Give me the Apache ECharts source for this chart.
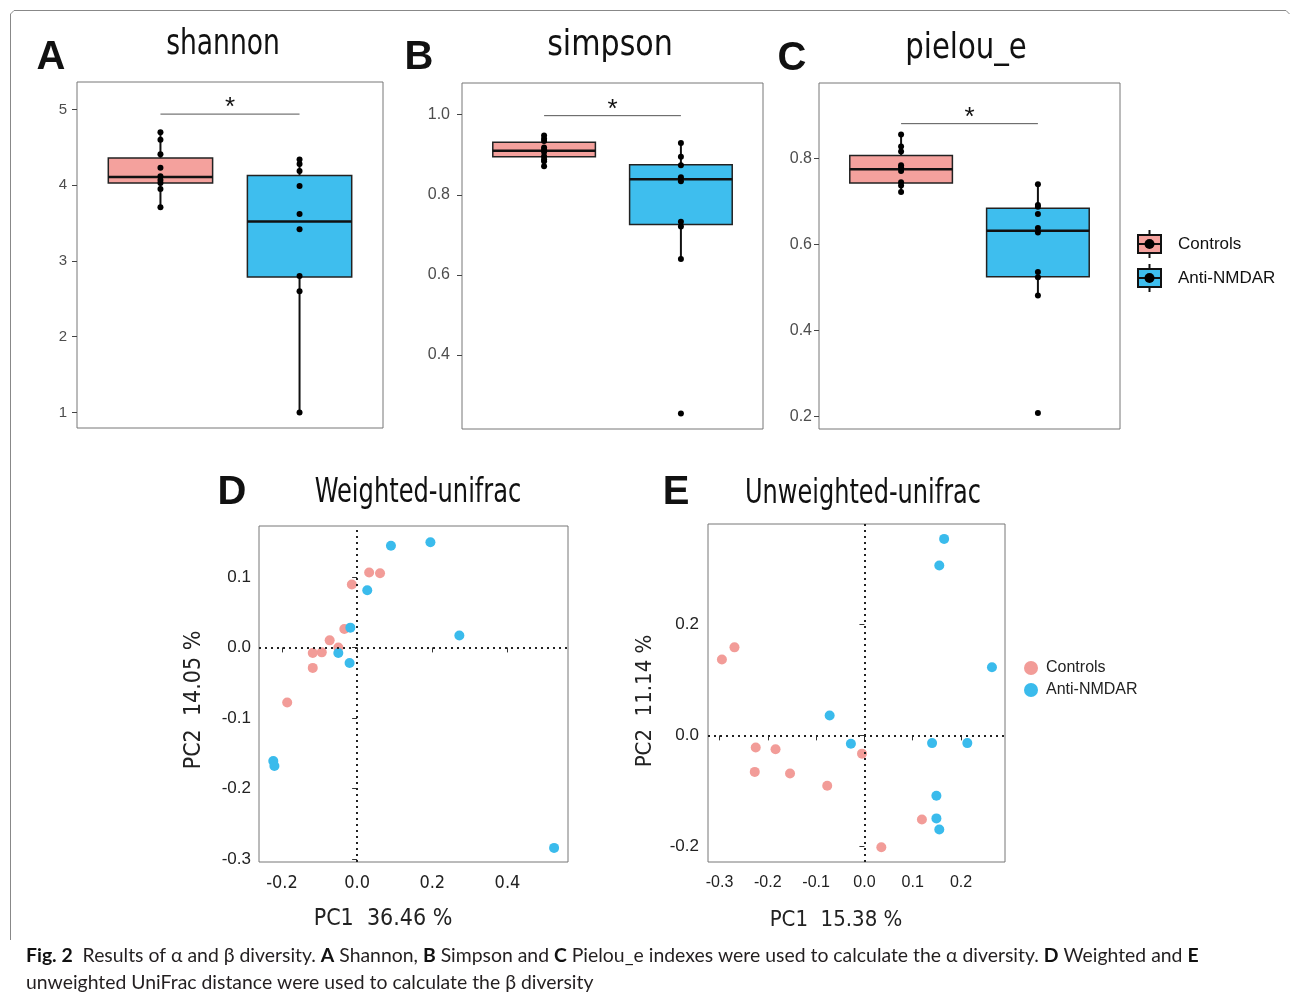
<!DOCTYPE html>
<html>
<head>
<meta charset="utf-8">
<title>Alpha and beta diversity</title>
<script src="https://cdn.jsdelivr.net/npm/echarts@6/dist/echarts.min.js"></script>
<style>
  html, body { margin: 0; padding: 0; background: #fff; }
  #chart { width: 1290px; height: 1000px; }
</style>
</head>
<body>
<div id="chart"></div>
<script>
// groups
const groups = ["Controls", "Anti-NMDAR"];
const groupColors = ["#F4A19D", "#3EBEEE"];
const dotColors = ["#F29C98", "#3ABBEC"];

// alpha diversity: box stats [min, q1, median, q3, max] per group
const shannonBox = [[3.71, 4.03, 4.11, 4.36, 4.70], [1.00, 2.79, 3.52, 4.13, 4.34]];
const shannonCtrl = [4.70, 4.60, 4.41, 4.23, 4.12, 4.07, 4.03, 3.95, 3.71];
const shannonAnti = [4.34, 4.28, 4.19, 3.99, 3.62, 3.42, 2.80, 2.60, 1.00];
const shannonTicks = [1, 2, 3, 4, 5];

const simpsonBox = [[0.871, 0.895, 0.910, 0.931, 0.948], [0.640, 0.726, 0.839, 0.875, 0.929]];
const simpsonCtrl = [0.948, 0.940, 0.934, 0.918, 0.913, 0.907, 0.896, 0.889, 0.884, 0.871];
const simpsonAnti = [0.929, 0.895, 0.874, 0.844, 0.834, 0.733, 0.721, 0.640, 0.254];
const simpsonTicks = [0.4, 0.6, 0.8, 1.0];

const pielouBox = [[0.722, 0.743, 0.775, 0.807, 0.856], [0.481, 0.525, 0.632, 0.684, 0.740]];
const pielouCtrl = [0.856, 0.828, 0.816, 0.784, 0.779, 0.771, 0.745, 0.737, 0.722];
const pielouAnti = [0.740, 0.692, 0.688, 0.671, 0.638, 0.628, 0.536, 0.524, 0.481, 0.208];
const pielouTicks = [0.2, 0.4, 0.6, 0.8];

// height of the "*" bracket
const sigLevels = [4.94, 0.9975, 0.881];

// beta diversity (PCoA) points [PC1, PC2]
const weightedCtrl = [[0.032, 0.106], [0.061, 0.105], [-0.014, 0.089], [-0.034, 0.026], [-0.073, 0.010],
  [-0.050, 0.000], [-0.094, -0.007], [-0.118, -0.008], [-0.118, -0.029], [-0.186, -0.078]];
const weightedAnti = [[0.090, 0.144], [0.195, 0.149], [0.027, 0.081], [0.272, 0.017], [-0.018, 0.028],
  [-0.050, -0.008], [-0.020, -0.022], [-0.223, -0.161], [-0.220, -0.168], [0.524, -0.284]];
const weightedXTicks = [-0.2, 0, 0.2, 0.4];
const weightedYTicks = [-0.3, -0.2, -0.1, 0, 0.1];

const unweightedCtrl = [[-0.295, 0.137], [-0.269, 0.159], [-0.225, -0.022], [-0.184, -0.025], [-0.227, -0.066],
  [-0.154, -0.069], [-0.077, -0.091], [-0.005, -0.033], [0.119, -0.152], [0.035, -0.202]];
const unweightedAnti = [[-0.072, 0.036], [-0.028, -0.015], [0.165, 0.355], [0.155, 0.307], [0.264, 0.123],
  [0.140, -0.014], [0.213, -0.014], [0.149, -0.109], [0.149, -0.150], [0.155, -0.170]];
const unweightedXTicks = [-0.3, -0.2, -0.1, 0, 0.1, 0.2];
const unweightedYTicks = [-0.2, 0, 0.2];

const SANS = '"Liberation Sans", Arial, sans-serif';
const NARROW = '"DejaVu Sans Condensed", "DejaVu Sans", sans-serif';
const CAPTION = 'Lato, "Open Sans", sans-serif';

let chart = echarts.init(document.getElementById("chart"), null, { renderer: "canvas" });

function renderBox(params, api) {
  let x = api.value(0);
  let lo = api.coord([x - 0.375, api.value(2)]);
  let hi = api.coord([x + 0.375, api.value(4)]);
  let mid = api.coord([x, api.value(3)]);
  let wMin = api.coord([x, api.value(1)]);
  let wMax = api.coord([x, api.value(5)]);
  return {
    type: "group",
    children: [
      { type: "line", shape: { x1: mid[0], y1: hi[1], x2: mid[0], y2: wMax[1] }, style: { stroke: "#111", lineWidth: 2 } },
      { type: "line", shape: { x1: mid[0], y1: lo[1], x2: mid[0], y2: wMin[1] }, style: { stroke: "#111", lineWidth: 2 } },
      {
        type: "rect",
        shape: { x: lo[0], y: hi[1], width: hi[0] - lo[0], height: lo[1] - hi[1] },
        style: { fill: groupColors[params.dataIndex], stroke: "#222", lineWidth: 1.5 },
      },
      { type: "line", shape: { x1: lo[0], y1: mid[1], x2: hi[0], y2: mid[1] }, style: { stroke: "#111", lineWidth: 2.5 } },
    ],
  };
}

function renderSig(params, api) {
  let a = api.coord([api.value(0), api.value(2)]);
  let b = api.coord([api.value(1), api.value(2)]);
  return {
    type: "group",
    children: [
      { type: "line", shape: { x1: a[0], y1: a[1], x2: b[0], y2: b[1] }, style: { stroke: "#555", lineWidth: 1 } },
      {
        type: "text",
        style: {
          text: "*", x: (a[0] + b[0]) / 2, y: a[1] - 6,
          textAlign: "center", textVerticalAlign: "middle",
          fontSize: 26, fontFamily: SANS, fill: "#111",
        },
      },
    ],
  };
}

function boxPanel(idx, stats, ctrl, anti, sig) {
  let pts = ctrl.map((v) => [1, v]).concat(anti.map((v) => [2, v]));
  return [
    {
      type: "custom", xAxisIndex: idx, yAxisIndex: idx,
      data: stats.map((s, i) => [i + 1].concat(s)),
      encode: { x: 0, y: [1, 2, 3, 4, 5] },
      renderItem: renderBox, z: 2,
    },
    {
      type: "scatter", xAxisIndex: idx, yAxisIndex: idx,
      data: pts, symbolSize: 6, itemStyle: { color: "#000", opacity: 1 }, z: 3,
    },
    {
      type: "custom", xAxisIndex: idx, yAxisIndex: idx,
      data: [[1, 2, sig]], encode: { x: [0, 1], y: 2 },
      renderItem: renderSig, z: 3,
    },
  ];
}

function fmt1(v) { return v.toFixed(1); }

function boxYAxis(idx, min, max, ticks, formatter, size, margin) {
  return {
    gridIndex: idx, type: "value", min: min, max: max,
    splitLine: { show: false }, axisLine: { show: false },
    axisTick: { show: true, length: 5, customValues: ticks, lineStyle: { color: "#444" } },
    axisLabel: { customValues: ticks, color: "#4d4d4d", fontSize: size, fontFamily: SANS, margin: margin, formatter: formatter },
  };
}

function boxXAxis(idx) {
  return { gridIndex: idx, type: "value", min: 0.4, max: 2.6, show: false };
}

function pcoaAxis(idx, min, max, ticks, name, nameGap, namePad, nameSize, labelStyle) {
  return {
    gridIndex: idx, type: "value", min: min, max: max,
    splitLine: { show: false }, axisLine: { show: false },
    axisTick: { show: true, length: 5, customValues: ticks, lineStyle: { color: "#333" } },
    axisLabel: Object.assign({ customValues: ticks, color: "#222", formatter: fmt1 }, labelStyle),
    name: name, nameLocation: "middle", nameGap: nameGap,
    nameTextStyle: { fontFamily: NARROW, fontSize: nameSize, color: "#222", padding: namePad },
  };
}

function pcoaSeries(idx, ctrl, anti) {
  return [
    {
      name: groups[0], type: "scatter", xAxisIndex: idx, yAxisIndex: idx,
      data: ctrl, symbolSize: 10, itemStyle: { color: dotColors[0], opacity: 1 }, z: 3,
      markLine: {
        silent: true, symbol: "none", label: { show: false },
        lineStyle: { type: [2, 4], color: "#222", width: 2 },
        data: [{ xAxis: 0 }, { yAxis: 0 }],
      },
    },
    {
      name: groups[1], type: "scatter", xAxisIndex: idx, yAxisIndex: idx,
      data: anti, symbolSize: 10, itemStyle: { color: dotColors[1], opacity: 1 }, z: 3,
    },
  ];
}

function txt(x, y, text, size, weight, family, align, sx) {
  return {
    type: "text", x: x, y: y, scaleX: sx || 1, silent: true,
    style: {
      text: text, fontSize: size, fontWeight: weight || "normal", fontFamily: family || SANS,
      fill: "#111", align: align || "center", verticalAlign: "middle",
    },
  };
}

function boxLegendItem(y, color, label) {
  return [
    { type: "line", shape: { x1: 1149.5, y1: y - 14, x2: 1149.5, y2: y + 14 }, style: { stroke: "#111", lineWidth: 2 } },
    { type: "rect", shape: { x: 1138, y: y - 9, width: 23, height: 18 }, style: { fill: color, stroke: "#111", lineWidth: 2 } },
    { type: "line", shape: { x1: 1138, y1: y, x2: 1161, y2: y }, style: { stroke: "#111", lineWidth: 2 } },
    { type: "circle", shape: { cx: 1149.5, cy: y, r: 5 }, style: { fill: "#000" } },
    txt(1178, y, label, 17, "normal", SANS, "left"),
  ];
}

let option = {
  animation: false,
  backgroundColor: "#fff",
  grid: [
    { left: 77, top: 82, width: 306, height: 346, show: true, borderColor: "#777", borderWidth: 1 },
    { left: 462, top: 83, width: 301, height: 346, show: true, borderColor: "#777", borderWidth: 1 },
    { left: 819, top: 83, width: 301, height: 346, show: true, borderColor: "#777", borderWidth: 1 },
    { left: 259, top: 526, width: 309, height: 336, show: true, borderColor: "#777", borderWidth: 1 },
    { left: 708, top: 524, width: 297, height: 338, show: true, borderColor: "#777", borderWidth: 1 },
  ],
  xAxis: [
    boxXAxis(0), boxXAxis(1), boxXAxis(2),
    pcoaAxis(3, -0.261, 0.561, weightedXTicks, "PC1  36.46 %", 46, [0, 61, 0, 0], 23,
      { fontFamily: NARROW, fontSize: 18, margin: 12 }),
    pcoaAxis(4, -0.3238, 0.291, unweightedXTicks, "PC1  15.38 %", 47, [0, 41, 0, 0], 22,
      { fontFamily: SANS, fontSize: 16, margin: 13 }),
  ],
  yAxis: [
    boxYAxis(0, 0.794, 5.364, shannonTicks, (v) => String(v), 15, 10),
    boxYAxis(1, 0.2155, 1.079, simpsonTicks, fmt1, 16, 12),
    boxYAxis(2, 0.1707, 0.9756, pielouTicks, fmt1, 16, 7),
    pcoaAxis(3, -0.304, 0.172, weightedYTicks, "PC2  14.05 %", 53, [0, 12, 0, 0], 23,
      { fontFamily: SANS, fontSize: 17, margin: 8 }),
    pcoaAxis(4, -0.2288, 0.3819, unweightedYTicks, "PC2  11.14 %", 52, [0, 16, 0, 0], 22,
      { fontFamily: SANS, fontSize: 17, margin: 9 }),
  ],
  legend: {
    data: groups, orient: "vertical", left: 1019, top: 655, icon: "circle",
    itemWidth: 20, itemHeight: 14, itemGap: 6, selectedMode: false,
    textStyle: { fontFamily: SANS, fontSize: 16, color: "#222" },
  },
  title: {
    left: 26, top: 942, padding: 0,
    text: "{b|Fig. 2}  Results of α and β diversity. {b|A} Shannon, {b|B} Simpson and {b|C} Pielou_e indexes were used to calculate the α diversity. {b|D} Weighted and {b|E}\nunweighted UniFrac distance were used to calculate the β diversity",
    textStyle: {
      fontFamily: CAPTION, fontSize: 19.4, fontWeight: "normal", color: "#231f20", lineHeight: 27,
      rich: { b: { fontFamily: CAPTION, fontSize: 19.4, fontWeight: "bold", color: "#111", lineHeight: 27 } },
    },
  },
  series: []
    .concat(boxPanel(0, shannonBox, shannonCtrl, shannonAnti, sigLevels[0]))
    .concat(boxPanel(1, simpsonBox, simpsonCtrl, simpsonAnti, sigLevels[1]))
    .concat(boxPanel(2, pielouBox, pielouCtrl, pielouAnti, sigLevels[2]))
    .concat(pcoaSeries(3, weightedCtrl, weightedAnti))
    .concat(pcoaSeries(4, unweightedCtrl, unweightedAnti)),
  graphic: [
    {
      type: "polyline", silent: true,
      shape: { points: [[10.5, 940], [10.5, 14], [14, 10.5], [1286, 10.5], [1289.5, 14]] },
      style: { fill: null, stroke: "#888", lineWidth: 1 },
    },
    txt(51, 58, "A", 40, "bold"),
    txt(419, 58, "B", 40, "bold"),
    txt(792, 59, "C", 40, "bold"),
    txt(232, 493, "D", 40, "bold"),
    txt(676, 493, "E", 40, "bold"),
    txt(223, 45, "shannon", 36, "normal", NARROW, "center", 0.82),
    txt(610, 46, "simpson", 36, "normal", NARROW, "center", 0.93),
    txt(966, 49, "pielou_e", 36, "normal", NARROW, "center", 0.9),
    txt(418, 493, "Weighted-unifrac", 33, "normal", NARROW, "center", 0.813),
    txt(863, 494, "Unweighted-unifrac", 33, "normal", NARROW, "center", 0.81),
  ]
    .concat(boxLegendItem(244, groupColors[0], groups[0]))
    .concat(boxLegendItem(278, groupColors[1], groups[1])),
};

chart.setOption(option);
</script>
</body>
</html>
